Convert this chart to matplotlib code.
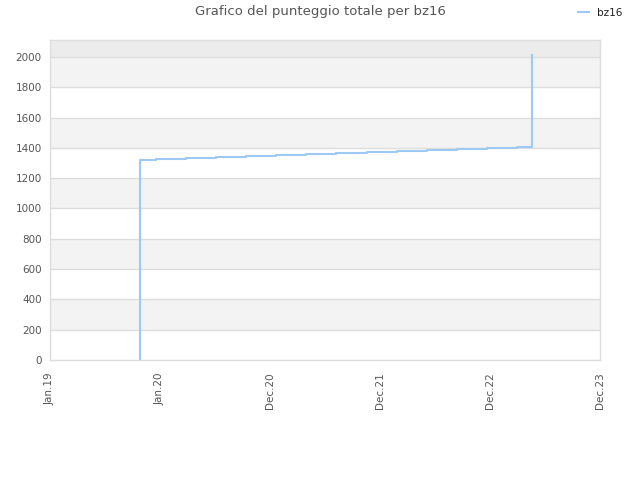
import matplotlib
matplotlib.use("Agg")
import matplotlib.pyplot as plt
import datetime as dt

# Data
dates = ["2019-10-26", "2019-10-26", "2019-12-18", "2020-03-27", "2020-07-05", "2020-10-13",
         "2021-01-20", "2021-04-30", "2021-08-07", "2021-11-18", "2022-02-25",
         "2022-06-05", "2022-09-12", "2022-12-21", "2023-03-31", "2023-05-19", "2023-05-19"]
scores = [0, 1320, 1327, 1333, 1340, 1347, 1353, 1360, 1366, 1373, 1380,
          1386, 1393, 1400, 1406, 1410, 2012]
series_name = "bz16"
tick_dates = ["2019-01-01", "2020-01-01", "2020-12-31", "2021-12-31", "2022-12-31", "2023-12-31"]
tick_labels = ["Jan.19", "Jan.20", "Dec.20", "Dec.21", "Dec.22", "Dec.23"]
title = "Grafico del punteggio totale per bz16"

x = [dt.datetime.fromisoformat(d) for d in dates]
tx = [dt.datetime.fromisoformat(d) for d in tick_dates]

fig = plt.figure(figsize=(6.4, 4.8), dpi=100)
ax = fig.add_axes([50/640, 120/480, 550/640, 320/480])

ymax = 2112
ax.set_ylim(0, ymax)
ax.set_xlim(tx[0], tx[-1])

# bands
for lo in range(0, 2000, 200):
    if (lo // 200) % 2 == 1:
        ax.axhspan(lo, lo + 200, color="#f3f3f3", zorder=0, lw=0)
ax.axhspan(2000, ymax, color="#ececec", zorder=0, lw=0)
for v in range(200, 2001, 200):
    ax.axhline(v, color="#dddddd", lw=1, zorder=1)

ax.plot(x, scores, drawstyle="steps-post", color="#9ccaf5", lw=1.5, zorder=3, label=series_name)

ax.set_yticks(range(0, 2001, 200))
ax.set_xticks(tx)
ax.set_xticklabels(tick_labels, rotation=90)
ax.tick_params(axis="both", length=0, labelsize=7.5, colors="#555555", pad=6)
ax.tick_params(axis="x", pad=9)
for s in ax.spines.values():
    s.set_color("#dddddd")
    s.set_linewidth(1)

fig.text(0.5, 1 - 12/480, title, ha="center", va="center", fontsize=9.5, color="#555555")
leg = fig.legend(loc="center right", bbox_to_anchor=(1 - 8/640, 1 - 13/480), frameon=False,
                 fontsize=7.5, handlelength=1.0, handletextpad=0.8)
for t in leg.get_texts():
    t.set_color("#222222")

fig.savefig("out.png", dpi=100)
